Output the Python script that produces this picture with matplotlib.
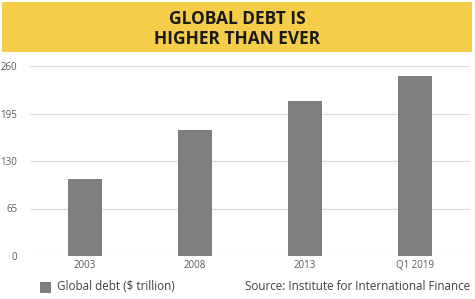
import matplotlib.pyplot as plt
from matplotlib.patches import Rectangle

years = ['2003', '2008', '2013', 'Q1 2019']
debt = [105, 172, 212, 246]
yticks = [0, 65, 130, 195, 260]

plt.rcParams['font.family'] = ['Open Sans', 'DejaVu Sans']

fig = plt.figure(figsize=(4.75, 2.99), dpi=100)

# yellow title banner
fig.patches.append(Rectangle((2 / 475, 1 - 52 / 299), 470 / 475, 50 / 299,
                             transform=fig.transFigure, facecolor='#F5CD48',
                             edgecolor='none', zorder=0))
fig.text(0.5, 1 - 19 / 299, 'GLOBAL DEBT IS', ha='center', va='center',
         fontsize=12.5, fontweight='bold', color='#1a1a1a')
fig.text(0.5, 1 - 39 / 299, 'HIGHER THAN EVER', ha='center', va='center',
         fontsize=12.5, fontweight='bold', color='#1a1a1a')

ax = fig.add_axes([30 / 475, 1 - 256 / 299, 440 / 475, 190 / 299])
ax.bar(range(len(years)), debt, width=0.31, color='#7f7f7f', zorder=3)
ax.set_xlim(-0.5, len(years) - 0.5)
ax.set_ylim(0, 260)
ax.set_yticks(yticks)
ax.set_xticks(range(len(years)))
ax.set_xticklabels(years)
ax.yaxis.grid(True, color='#d9d9d9', linewidth=0.8, zorder=0)
for s in ax.spines.values():
    s.set_visible(False)
ax.tick_params(length=0, labelsize=7, labelcolor='#595959')
ax.tick_params(axis='y', pad=9)
ax.tick_params(axis='x', pad=3)

# legend and source
fig.patches.append(Rectangle((40 / 475, 1 - 293 / 299), 11 / 475, 11 / 299,
                             transform=fig.transFigure, facecolor='#7f7f7f',
                             edgecolor='none'))
fig.text(57 / 475, 1 - 287 / 299, 'Global debt ($ trillion)', ha='left',
         va='center', fontsize=8.4, color='#404040')
fig.text(470 / 475, 1 - 287 / 299, 'Source: Institute for International Finance',
         ha='right', va='center', fontsize=8.4, color='#404040')

fig.savefig('out.png', dpi=100)
